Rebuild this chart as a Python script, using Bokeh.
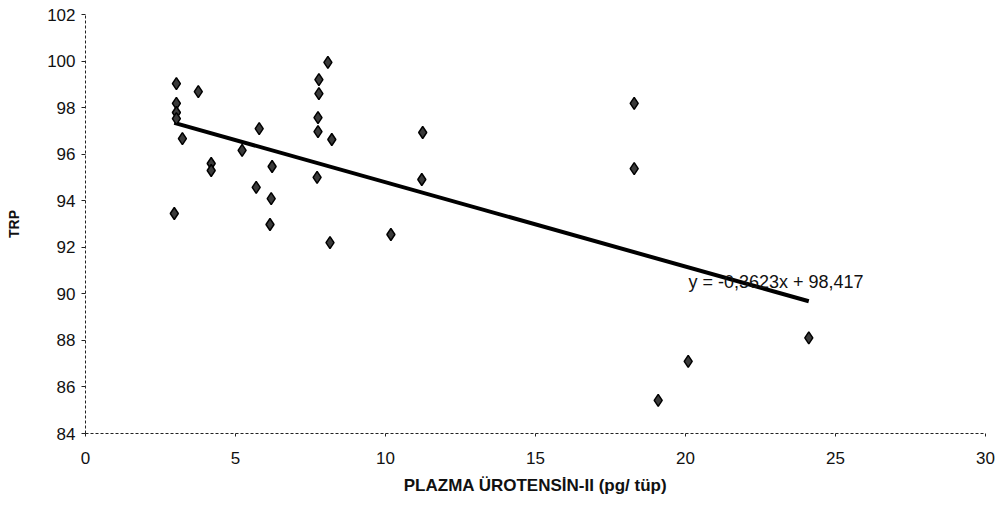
from bokeh.plotting import figure
from bokeh.models import Range1d, SingleIntervalTicker, Label
from bokeh.embed import file_html
from bokeh.resources import INLINE
from bokeh.core.properties import value

# Data
plasma_u2 = [2.96, 3.03, 3.03, 3.03, 3.03, 3.23, 3.76, 4.19, 4.19, 5.22, 5.79, 5.69,
             6.22, 6.19, 6.15, 8.08, 7.78, 7.78, 7.75, 7.75, 8.21, 7.72, 8.15, 10.18,
             11.24, 11.21, 18.29, 18.29, 19.09, 20.09, 24.11]
trp = [93.45, 99.03, 98.18, 97.79, 97.53, 96.67, 98.69, 95.6, 95.3, 96.16, 97.1, 94.57,
       95.47, 94.09, 92.98, 99.94, 99.2, 98.6, 97.57, 96.97, 96.63, 95.0, 92.2, 92.55,
       96.93, 94.91, 98.18, 95.38, 85.42, 87.1, 88.11]
slope = -0.3623
intercept = 98.417
equation_text = "y = -0,3623x + 98,417"
x_title = "PLAZMA ÜROTENSİN-II (pg/ tüp)"
y_title = "TRP"

FONT = "Liberation Sans"

p = figure(width=1003, height=505, output_backend="svg", toolbar_location=None,
           x_range=Range1d(0, 30), y_range=Range1d(84, 102),
           min_border_left=85, min_border_right=18, min_border_top=14, min_border_bottom=72)
p.outline_line_color = None
p.background_fill_color = "white"
p.border_fill_color = "white"
p.xgrid.visible = False
p.ygrid.visible = False

p.xaxis.ticker = SingleIntervalTicker(interval=5)
p.yaxis.ticker = SingleIntervalTicker(interval=2)
for ax in (p.xaxis[0], p.yaxis[0]):
    ax.axis_line_color = "#222222"
    ax.axis_line_dash = "3 2"
    ax.axis_line_width = 1
    ax.major_tick_line_color = "#222222"
    ax.minor_tick_line_color = None
    ax.major_label_text_font = FONT
    ax.major_label_text_font_size = "17px"
    ax.major_label_text_color = "#111111"
    ax.axis_label_text_font = FONT
    ax.axis_label_text_font_style = "bold"
    ax.axis_label_text_color = "#111111"

p.xaxis.major_tick_in = 0
p.xaxis.major_tick_out = 3
p.xaxis.major_label_standoff = 14
p.xaxis.axis_label = x_title
p.xaxis.axis_label_text_font_size = "17px"
p.xaxis.axis_label_standoff = 9

p.yaxis.major_tick_in = 0
p.yaxis.major_tick_out = 4
p.yaxis.major_label_standoff = 6
p.yaxis.axis_label = y_title
p.yaxis.axis_label_text_font_size = "14px"
p.yaxis.axis_label_standoff = 22

# trend line
x0, x1 = min(plasma_u2), max(plasma_u2)
p.line([x0, x1], [intercept + slope * x0, intercept + slope * x1],
       line_color="black", line_width=4)

p.scatter(plasma_u2, trp, marker="diamond", size=12, fill_color="#3a3a3a",
          line_color="#000000", line_width=1.5)

p.add_layout(Label(x=20.1, y=90.5, text=equation_text, text_font=FONT,
                   text_font_size="18px", text_color="#111111",
                   text_baseline="alphabetic"))

open("out.html", "w").write(file_html(p, INLINE))
